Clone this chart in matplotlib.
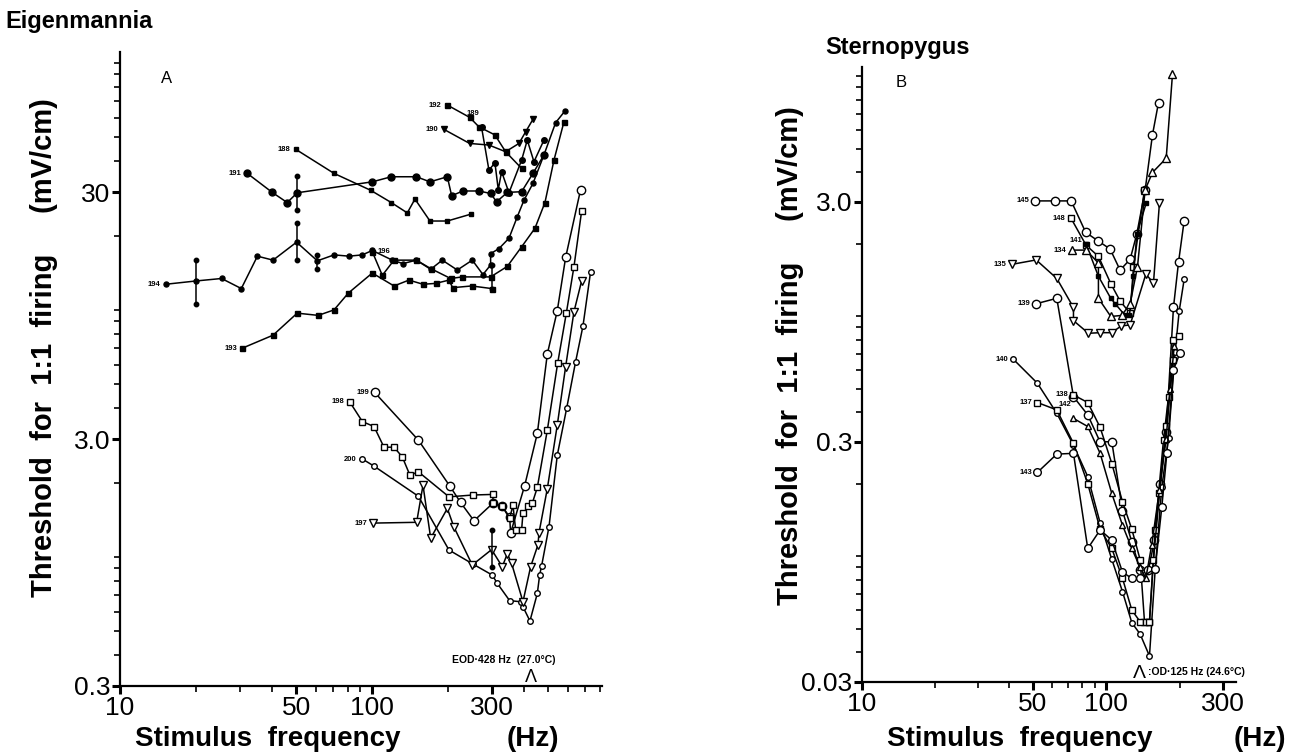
import matplotlib
matplotlib.use('Agg')
import matplotlib.pyplot as plt
from matplotlib.ticker import FixedLocator, FixedFormatter, NullFormatter

plt.rcParams['font.family'] = ['Liberation Sans', 'DejaVu Sans']

# ---------------- Panel A (Eigenmannia) ----------------
a192_f = [199.1, 244.1, 265.8, 307.6, 339.1, 392.5]
a192_t = [67.5, 60.2, 55.1, 51.1, 43.7, 37.4]
a189_f = [272.3, 291.2, 307.6, 317.1, 326.9, 349.7, 392.5, 413.4, 439.4, 481.4]
a189_t = [54.8, 36.8, 39.4, 30.7, 36.3, 29.8, 40.4, 48.7, 39.8, 48.7]
a190_f = [193.1, 244.1, 291.2, 339.1, 383.1, 407.2, 435.4]
a190_t = [53.8, 47.2, 46.5, 43.7, 47.2, 52.6, 59.1]
a188_f = [49.8, 70.7, 98.8, 119.3, 138.1, 148.1, 169.9, 199.1, 246.4]
a188_t = [44.7, 35.7, 30.5, 27.2, 24.7, 28.1, 22.9, 22.9, 24.4]
a191_f = [32.0, 40.2, 46.1, 50.5, 100.3, 119.3, 150.0, 169.9, 199.1, 207.1, 229.7,
          265.8, 295.7, 312.3, 344.4, 392.5, 435.4, 481.4]
a191_t = [35.7, 29.9, 27.2, 29.8, 33.0, 34.6, 34.6, 33.0, 34.6, 29.0, 30.3,
          30.3, 29.6, 27.4, 29.9, 30.1, 35.7, 42.4]
a194_f = [15.2, 20.1, 25.3, 30.3, 35.1, 40.5, 50.2, 60.7, 70.7, 81.1, 91.5, 100.3,
          120.4, 132.7, 150.0, 171.0, 190.1, 218.1, 250.1, 275.7, 295.7, 295.7,
          319.0, 349.7, 377.2, 401.0, 435.4, 481.4, 535.7, 583.4]
a194_t = [12.7, 13.1, 13.4, 12.2, 16.5, 15.9, 18.8, 15.8, 16.7, 16.5, 16.7, 17.4,
          15.9, 15.4, 15.9, 14.6, 15.9, 14.5, 15.9, 13.9, 15.2, 16.9,
          17.7, 19.5, 23.8, 27.8, 32.5, 42.4, 57.3, 63.9]
a196_f = [100.3, 109.9, 122.3, 150.0, 171.0, 205.2, 228.3, 295.7, 344.4, 392.5,
          443.4, 485.8, 527.6, 578.1]
a196_t = [17.2, 13.8, 15.9, 15.9, 14.7, 13.4, 13.6, 13.6, 15.0, 18.0,
          21.4, 27.2, 40.4, 57.8]
a193_f = [30.6, 40.5, 50.5, 61.2, 70.7, 80.6, 100.3, 122.3, 140.2, 159.4, 178.9,
          202.1, 209.0, 248.6, 298.4]
a193_t = [7.0, 7.9, 9.7, 9.5, 10.0, 11.7, 14.1, 12.5, 13.2, 12.7, 12.8,
          13.2, 12.3, 12.5, 12.2]
a199_f = [102.5, 152.8, 203.3, 224.8, 254.0, 302.1, 329.0, 351.8, 355.0, 403.5,
          453.1, 496.5, 543.7, 586.9, 673.0]
a199_t = [4.63, 2.97, 1.94, 1.66, 1.40, 1.65, 1.60, 1.45, 1.25, 1.94,
          3.16, 6.63, 9.92, 16.3, 30.7]
a198_f = [81.5, 91.6, 101.9, 111.6, 122.3, 131.9, 141.5, 152.8, 202.1, 251.6,
          302.1, 302.1, 329.0, 351.8, 362.7, 371.6, 392.6, 397.4, 417.3, 432.8,
          453.1, 496.5, 545.5, 590.4, 633.3, 679.2]
a198_t = [4.25, 3.53, 3.37, 2.78, 2.78, 2.54, 2.14, 2.21, 1.75, 1.78,
          1.79, 1.65, 1.60, 1.43, 1.62, 1.29, 1.29, 1.50, 1.60, 1.65,
          1.91, 3.26, 6.07, 9.68, 14.96, 25.1]
a200_f = [91.6, 101.9, 152.8, 202.1, 251.6, 300.2, 314.3, 351.8, 389.0, 397.4,
          423.6, 453.1, 462.8, 471.4, 504.2, 543.8, 592.3, 643.0, 687.6, 737.5]
a200_t = [2.49, 2.33, 1.76, 1.066, 0.935, 0.844, 0.781, 0.665, 0.658, 0.628,
          0.55, 0.711, 0.844, 0.921, 1.325, 2.58, 3.99, 6.17, 8.6, 14.3]
a197_f = [100.9, 150.4, 159.4, 171.0, 199.1, 211.5, 250.1, 298.4, 329.0, 344.4,
          358.3, 397.4, 426.2, 455.9, 460.0, 496.5, 543.8, 586.9, 633.3, 679.2]
a197_t = [1.37, 1.38, 1.95, 1.19, 1.57, 1.32, 0.927, 1.07, 0.912, 1.03,
          0.94, 0.658, 0.912, 1.12, 1.25, 1.89, 3.42, 5.89, 9.83, 13.1]

errA_f = [20.1, 50.5, 50.2, 60.7, 298.4, 298.4]
errA_lo = [10.6, 25.4, 15.9, 14.7, 12.2, 0.912]
errA_hi = [15.9, 34.8, 22.4, 16.7, 15.2, 1.28]

# ---------------- Panel B (Sternopygus) ----------------
b145_f = [51.2, 61.8, 71.9, 82.5, 93.0, 103.8, 114.1, 125.4, 133.6, 144.5, 154.8, 163.9]
b145_t = [3.03, 3.03, 3.03, 2.24, 2.06, 1.91, 1.56, 1.73, 2.21, 3.37, 5.71, 7.78]
b148_f = [71.9, 82.8, 93.0, 104.5, 114.1, 125.4, 129.4, 143.6]
b148_t = [2.56, 1.98, 1.78, 1.37, 1.16, 1.03, 1.61, 3.37]
b141_f = [82.8, 93.0, 104.5, 108.9, 119.6, 124.6, 129.4, 133.6, 146.0]
b141_t = [2.00, 1.47, 1.19, 1.13, 1.01, 1.01, 1.47, 2.21, 2.97]
b134_f = [72.3, 82.8, 93.0, 93.0, 104.5, 115.9, 125.4, 134.4, 144.5, 154.8, 176.2, 187.0]
b134_t = [1.89, 1.89, 1.67, 1.19, 1.00, 1.01, 1.13, 1.61, 3.37, 3.98, 4.56, 10.24]
b135_f = [41.3, 51.7, 62.8, 73.5, 73.5, 84.6, 94.5, 105.5, 115.2, 125.4, 145.4, 156.3, 165.4]
b135_t = [1.65, 1.72, 1.44, 1.09, 0.961, 0.851, 0.856, 0.856, 0.913, 0.922, 1.50, 1.38, 2.98]
b139_f = [51.7, 62.8, 73.5, 84.1, 94.5, 105.5, 116.7, 127.4, 137.8, 149.1, 157.8,
          166.4, 176.2, 188.7, 197.9, 208.8]
b139_t = [1.13, 1.19, 0.463, 0.389, 0.30, 0.301, 0.155, 0.115, 0.088, 0.088, 0.117,
          0.20, 0.33, 1.09, 1.68, 2.51]
b140_f = [41.7, 52.3, 62.8, 73.5, 84.1, 94.5, 105.5, 116.7, 127.4, 137.8, 150.5,
          158.8, 169.1, 180.1, 191.8, 199.1, 208.8]
b140_t = [0.663, 0.527, 0.395, 0.291, 0.215, 0.138, 0.0973, 0.0714, 0.0530, 0.0475,
          0.0385, 0.0879, 0.195, 0.311, 0.714, 1.05, 1.43]
b138_f = [73.5, 84.1, 94.5, 105.5, 116.7, 127.4, 137.8, 143.6, 150.5, 158.8, 171.8,
          180.1, 188.7, 199.1]
b138_t = [0.471, 0.438, 0.345, 0.244, 0.169, 0.130, 0.097, 0.0535, 0.0535, 0.129,
          0.306, 0.463, 0.798, 0.829]
b137_f = [52.3, 62.8, 73.5, 84.1, 94.5, 105.5, 116.7, 127.4, 137.8, 145.4, 150.5,
          156.3, 165.4, 176.2, 188.7]
b137_t = [0.438, 0.408, 0.296, 0.201, 0.13, 0.108, 0.0811, 0.0598, 0.0535, 0.0535,
          0.0535, 0.0967, 0.183, 0.35, 0.66]
b142_f = [73.5, 84.1, 94.5, 105.5, 116.7, 127.4, 137.8, 145.4, 153.8, 165.4, 176.2, 183.0, 190.0]
b142_t = [0.376, 0.348, 0.269, 0.183, 0.135, 0.108, 0.090, 0.0811, 0.112, 0.19, 0.31, 0.5, 0.75]
b143_f = [52.3, 62.8, 73.5, 84.1, 94.5, 105.5, 116.7, 127.4, 137.8, 158.8, 169.1,
          177.3, 188.7, 201.0]
b143_t = [0.224, 0.267, 0.269, 0.108, 0.129, 0.117, 0.086, 0.0811, 0.0811, 0.089, 0.161,
          0.269, 0.6, 0.707]

eodA, eodB = 428, 125

x_ticks_A = [10, 50, 100, 300]
x_ticks_B = [10, 50, 100, 300]
y_ticks_A = [0.3, 3.0, 30]
y_labels_A = ['0.3', '3.0', '30']
y_ticks_B = [0.03, 0.3, 3.0]
y_labels_B = ['0.03', '0.3', '3.0']

# (label, freqs, thresholds, marker, filled, size, label placement)
curves_A = [
    ('192', a192_f, a192_t, 's', True, 3.6, 'left'),
    ('189', a189_f, a189_t, 'o', True, 4.0, 'up'),
    ('190', a190_f, a190_t, 'v', True, 4.5, 'left'),
    ('188', a188_f, a188_t, 's', True, 3.2, 'left'),
    ('191', a191_f, a191_t, 'o', True, 5.0, 'left'),
    ('194', a194_f, a194_t, 'o', True, 3.6, 'left'),
    ('196', a196_f, a196_t, 's', True, 3.6, 'right'),
    ('193', a193_f, a193_t, 's', True, 3.6, 'left'),
    ('199', a199_f, a199_t, 'o', False, 6.0, 'left'),
    ('198', a198_f, a198_t, 's', False, 4.5, 'left'),
    ('200', a200_f, a200_t, 'o', False, 4.0, 'left'),
    ('197', a197_f, a197_t, 'v', False, 5.5, 'left'),
]
curves_B = [
    ('145', b145_f, b145_t, 'o', False, 6.0, 'left'),
    ('148', b148_f, b148_t, 's', False, 4.2, 'left'),
    ('141', b141_f, b141_t, 's', True, 3.5, 'upleft'),
    ('134', b134_f, b134_t, '^', False, 5.5, 'left'),
    ('135', b135_f, b135_t, 'v', False, 5.5, 'left'),
    ('139', b139_f, b139_t, 'o', False, 6.0, 'left'),
    ('140', b140_f, b140_t, 'o', False, 4.0, 'left'),
    ('138', b138_f, b138_t, 's', False, 4.2, 'left'),
    ('137', b137_f, b137_t, 's', False, 4.2, 'left'),
    ('142', b142_f, b142_t, '^', False, 5.0, 'up'),
    ('143', b143_f, b143_t, 'o', False, 5.5, 'left'),
]

fig = plt.figure(figsize=(12.89, 7.56), dpi=100)
axA = fig.add_axes([0.0931, 0.0926, 0.3739, 0.8386])
axB = fig.add_axes([0.6687, 0.0979, 0.2901, 0.8135])


def draw_curves(ax, curves):
    for lab, f, t, m, filled, ms, place in curves:
        ax.plot(f, t, color='black', lw=1.1, marker=m, ms=ms,
                mfc='black' if filled else 'white', mec='black', mew=1.0,
                clip_on=False, zorder=3)
        if place == 'left':
            off, ha, va = (-4, 0), 'right', 'center'
        elif place == 'right':
            off, ha, va = (4, 0), 'left', 'center'
        elif place == 'up':
            off, ha, va = (-6, 10), 'center', 'center'
        else:
            off, ha, va = (-3, 3), 'right', 'center'
        ax.annotate(lab, xy=(f[0], t[0]), xytext=off, textcoords='offset points',
                    ha=ha, va=va, fontsize=5.5, fontweight='bold')


def style_axes(ax, xlim, ylim, xt, yt, ylab):
    ax.set_xscale('log')
    ax.set_yscale('log')
    ax.set_xlim(*xlim)
    ax.set_ylim(*ylim)
    for s in ('top', 'right'):
        ax.spines[s].set_visible(False)
    for s in ('left', 'bottom'):
        ax.spines[s].set_linewidth(1.6)
    ax.xaxis.set_major_locator(FixedLocator(xt))
    ax.xaxis.set_major_formatter(FixedFormatter([str(v) for v in xt]))
    minors_x = [v * d for d in (10, 100) for v in range(2, 10)
                if xlim[0] < v * d <= xlim[1] and v * d not in xt]
    ax.xaxis.set_minor_locator(FixedLocator(minors_x))
    ax.xaxis.set_minor_formatter(NullFormatter())
    ax.yaxis.set_major_locator(FixedLocator(yt))
    ax.yaxis.set_major_formatter(FixedFormatter(ylab))
    minors_y = []
    for d in (0.01, 0.1, 1, 10, 100):
        for v in range(1, 10):
            val = round(v * d, 6)
            if ylim[0] < val <= ylim[1] and all(abs(val - y) > 1e-9 for y in yt):
                minors_y.append(val)
    ax.yaxis.set_minor_locator(FixedLocator(minors_y))
    ax.yaxis.set_minor_formatter(NullFormatter())
    ax.tick_params(which='major', direction='out', length=6, width=2.2,
                   labelsize=19, pad=1)
    ax.tick_params(which='minor', direction='out', length=4.5, width=1.2)


draw_curves(axA, curves_A)
axA.vlines(errA_f, errA_lo, errA_hi, color='black', lw=1.1, zorder=3)
axA.plot(errA_f + errA_f, errA_lo + errA_hi, 'o', color='black', ms=3.2, zorder=3)
style_axes(axA, (10, 818), (0.3, 110.7), x_ticks_A, y_ticks_A, y_labels_A)

draw_curves(axB, curves_B)
style_axes(axB, (10, 340), (0.03, 10.95), x_ticks_B, y_ticks_B, y_labels_B)

# EOD markers
axA.annotate('Λ', xy=(eodA, 0.3), xytext=(0, 0), textcoords='offset points',
             ha='center', va='bottom', fontsize=13, annotation_clip=False)
axA.annotate('EOD·428 Hz  (27.0°C)', xy=(eodA, 0.3), xytext=(-57, 19),
             textcoords='offset points', ha='left', va='center',
             fontsize=7.5, fontweight='bold', annotation_clip=False)
axB.annotate('Λ', xy=(eodB, 0.03), xytext=(7, 0), textcoords='offset points',
             ha='center', va='bottom', fontsize=14, annotation_clip=False)
axB.annotate(':OD·125 Hz (24.6°C)', xy=(eodB, 0.03), xytext=(13, 7),
             textcoords='offset points', ha='left', va='center',
             fontsize=7.5, fontweight='bold', annotation_clip=False)

axA.text(0.085, 0.958, 'A', transform=axA.transAxes, fontsize=12, va='center')
axB.text(0.09, 0.975, 'B', transform=axB.transAxes, fontsize=12, va='center')

fig.text(0.004, 0.972, 'Eigenmannia', fontsize=17, fontweight='bold', va='center')
fig.text(0.640, 0.937, 'Sternopygus', fontsize=17, fontweight='bold', va='center')

ylabel_txt = 'Threshold  for  1:1  firing     (mV/cm)'
fig.text(0.034, 0.54, ylabel_txt, rotation=90, fontsize=21,
         fontweight='bold', ha='center', va='center')
fig.text(0.613, 0.53, ylabel_txt, rotation=90, fontsize=21,
         fontweight='bold', ha='center', va='center')

fig.text(0.105, 0.022, 'Stimulus  frequency', fontsize=20,
         fontweight='bold', ha='left', va='center')
fig.text(0.434, 0.022, '(Hz)', fontsize=20, fontweight='bold', ha='right', va='center')
fig.text(0.688, 0.022, 'Stimulus  frequency', fontsize=20,
         fontweight='bold', ha='left', va='center')
fig.text(0.998, 0.022, '(Hz)', fontsize=20, fontweight='bold', ha='right', va='center')

fig.savefig('out.png', dpi=100)
